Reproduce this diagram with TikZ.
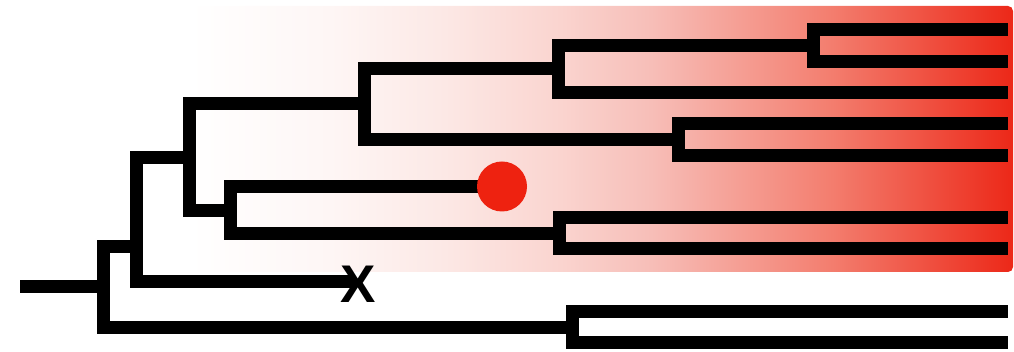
\documentclass[tikz,border=0pt]{standalone}
\usepackage{fontspec}
\newfontfamily\xfont{Liberation Sans}
\definecolor{fa}{RGB}{254,246,245}
\definecolor{fb}{RGB}{252,232,229}
\definecolor{fc}{RGB}{250,212,207}
\definecolor{fd}{RGB}{247,190,184}
\definecolor{fe}{RGB}{243,125,110}
\definecolor{ff}{RGB}{236,40,24}
\definecolor{dotred}{RGB}{238,34,16}
\pgfdeclarehorizontalshading{redfade}{100bp}{color(0bp)=(white); color(25bp)=(white); color(33.5bp)=(fa); color(40.5bp)=(fb); color(47.5bp)=(fc); color(53bp)=(fd); color(64bp)=(fe); color(75bp)=(ff); color(100bp)=(ff)}
\begin{document}
\begin{tikzpicture}[x=0.5pt,y=-0.5pt,
  branch/.style={line width=6.5pt, line join=miter, draw=black}]
\useasboundingbox (0,0) rectangle (1014,352);
\shade[shading=redfade, rounded corners=2.5pt] (190,6) rectangle (1013,272);
% internal nodes
\coordinate (root) at (20,287);
\coordinate (n0) at (103,287);
\coordinate (n1) at (136,246.5);
\coordinate (n2) at (189.5,157.5);
\coordinate (n3) at (364,104);
\coordinate (n4) at (558.5,69);
\coordinate (n8) at (813,46);
\coordinate (n6) at (678.5,140);
\coordinate (n5) at (230.5,211);
\coordinate (n9) at (559,233.5);
\coordinate (n7) at (572.5,327.5);
% tips
\coordinate (t1) at (1007.5,30);
\coordinate (t2) at (1007.5,61.5);
\coordinate (t3) at (1007.5,93);
\coordinate (t4) at (1007.5,124);
\coordinate (t5) at (1007.5,155.5);
\coordinate (t6) at (1007.5,218);
\coordinate (t7) at (1007.5,249);
\coordinate (t8) at (1007.5,312);
\coordinate (t9) at (1007.5,343);
\coordinate (dotc) at (502,186.5);
\coordinate (xend) at (354,281.5);
% branches
\draw[branch] (root) -- (n0);
\draw[branch] (n1) -| (n0) |- (n7);
\draw[branch] (n2) -| (n1) |- (xend);
\draw[branch] (n3) -| (n2) |- (n5);
\draw[branch] (n4) -| (n3) |- (n6);
\draw[branch] (n8) -| (n4) |- (t3);
\draw[branch] (t1) -| (n8) |- (t2);
\draw[branch] (t4) -| (n6) |- (t5);
\draw[branch] (dotc) -| (n5) |- (n9);
\draw[branch] (t6) -| (n9) |- (t7);
\draw[branch] (t8) -| (n7) |- (t9);
% markers
\node[circle, fill=dotred, minimum size=25pt, inner sep=0pt] (dot) at (dotc) {};
\node[inner sep=0pt, font=\xfont\bfseries\fontsize{26.5pt}{26.5pt}\selectfont] (xmark) at (358,284) {X};
\end{tikzpicture}
\end{document}
